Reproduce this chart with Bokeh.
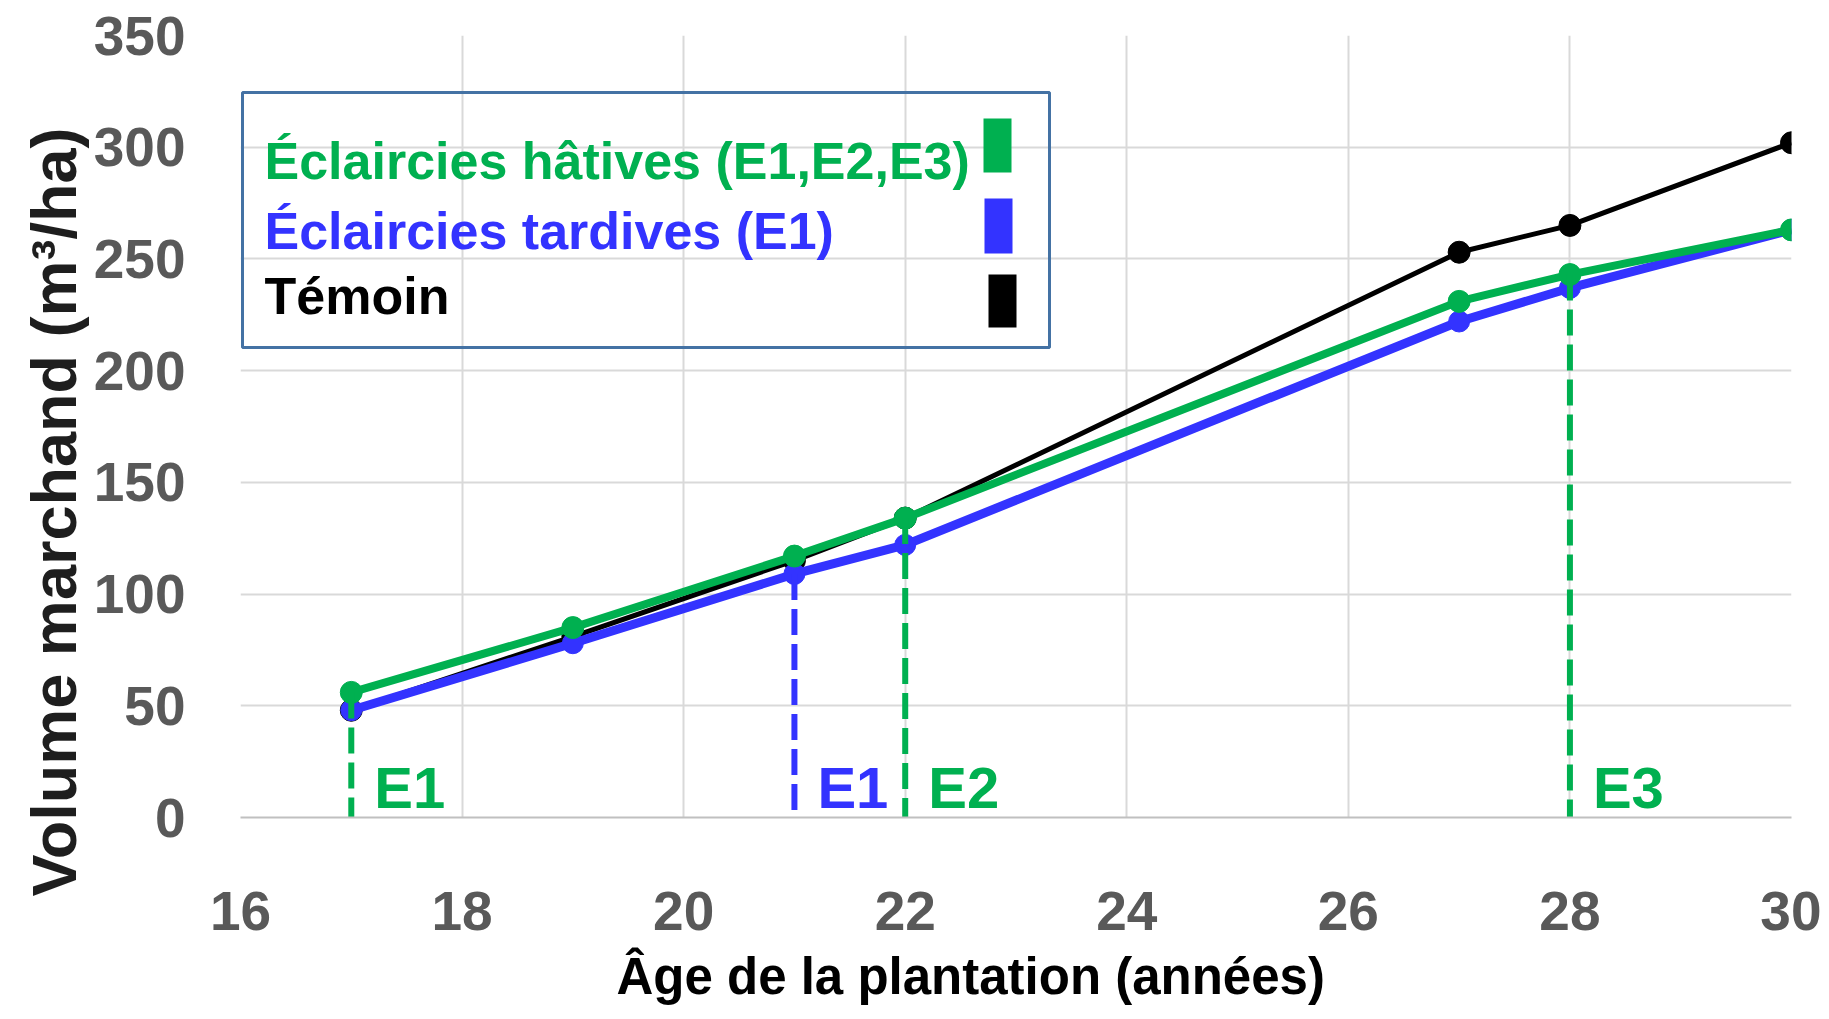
from bokeh.plotting import figure
from bokeh.models import Range1d, Label, BoxAnnotation, FixedTicker, Title
from bokeh.core.properties import value
from bokeh.embed import file_html
from bokeh.resources import INLINE

# ---------------- data ----------------
ages = [17, 19, 21, 22, 27, 28, 30]
temoin = [48, 81, 115, 134, 253, 265, 302]
hatives = [56, 85, 117, 134, 231, 243, 263]
tardives = [48, 78, 109, 122, 222, 237, 263]

hatives_thin_ages = [17, 22, 28]
hatives_thin_labels = ["E1", "E2", "E3"]
tardives_thin_ages = [21]
tardives_thin_labels = ["E1"]

x_ticks = [16, 18, 20, 22, 24, 26, 28, 30]
y_ticks = [0, 50, 100, 150, 200, 250, 300, 350]

legend_names = ["Éclaircies hâtives (E1,E2,E3)", "Éclaircies tardives (E1)", "Témoin"]

x_title = "Âge de la plantation (années)"
y_title = "Volume marchand (m³/ha)"

# ---------------- style ----------------
GREEN = "#00b050"
BLUE = "#3333ff"
BLACK = "#000000"
TICK = "#595959"
GRID = "#d9d9d9"
FONT = "Liberation Sans"
legend_colors = [GREEN, BLUE, BLACK]

p = figure(frame_width=1551, frame_height=782,
           x_range=Range1d(16, 30), y_range=Range1d(0, 350),
           output_backend="svg", toolbar_location=None,
           min_border_left=240, min_border_top=35,
           min_border_bottom=200, min_border_right=30)
p.outline_line_color = None
p.background_fill_color = "white"

p.xaxis.ticker = FixedTicker(ticks=x_ticks)
p.yaxis.ticker = FixedTicker(ticks=y_ticks)
for ax in (p.xaxis, p.yaxis):
    ax.major_tick_line_color = None
    ax.minor_tick_line_color = None
    ax.major_tick_out = 0
    ax.major_tick_in = 0
    ax.minor_tick_out = 0
    ax.major_label_text_font = FONT
    ax.major_label_text_font_style = "bold"
    ax.major_label_text_font_size = "55px"
    ax.major_label_text_color = TICK
p.xaxis.axis_line_color = "#c0c0c0"
p.xaxis.axis_line_width = 2
p.yaxis.axis_line_color = None
p.xaxis.major_label_standoff = 74
p.yaxis.major_label_standoff = 55

p.xgrid.ticker = FixedTicker(ticks=x_ticks)
p.ygrid.ticker = FixedTicker(ticks=y_ticks)
p.grid.grid_line_color = GRID
p.grid.grid_line_width = 2

# ---------------- series ----------------
p.line(ages, temoin, line_color=BLACK, line_width=5)
p.scatter(ages, temoin, size=22, fill_color=BLACK, line_color=BLACK)

p.line(ages, tardives, line_color=BLUE, line_width=9)
p.scatter(ages, tardives, size=21, fill_color=BLUE, line_color=BLUE)

p.line(ages, hatives, line_color=GREEN, line_width=8)
p.scatter(ages, hatives, size=22, fill_color=GREEN, line_color=GREEN)

# ---------------- thinning markers ----------------
h_top = [hatives[ages.index(a)] for a in hatives_thin_ages]
t_top = [tardives[ages.index(a)] for a in tardives_thin_ages]

p.segment(x0=tardives_thin_ages, y0=t_top, x1=tardives_thin_ages,
          y1=[0] * len(tardives_thin_ages),
          line_color=BLUE, line_width=6, line_dash="26 9")
p.segment(x0=hatives_thin_ages, y0=h_top, x1=hatives_thin_ages,
          y1=[0] * len(hatives_thin_ages),
          line_color=GREEN, line_width=6, line_dash="26 9")

for xs, labels, col in ((hatives_thin_ages, hatives_thin_labels, GREEN),
                        (tardives_thin_ages, tardives_thin_labels, BLUE)):
    p.text(x=xs, y=[0] * len(xs), text=labels,
           x_offset=23, y_offset=-30, text_font=value(FONT), text_font_style="bold",
           text_font_size="58px", text_color=col, text_baseline="alphabetic",
           text_align="left")

# ---------------- legend (custom: text left, swatch right) ----------------
p.add_layout(BoxAnnotation(left=2, right=809, bottom=470, top=725,
                           left_units="screen", right_units="screen",
                           bottom_units="screen", top_units="screen",
                           fill_color=None, fill_alpha=0,
                           line_color="#4472a4", line_width=3, line_alpha=1))
text_baselines = [657, 587, 522]
swatch_boxes = [(743, 771, 645, 699), (744, 772, 564, 619), (748, 776, 490, 543)]
for name, col, sy, (l, r, b, t) in zip(legend_names, legend_colors, text_baselines, swatch_boxes):
    p.add_layout(Label(x=24, y=sy, x_units="screen", y_units="screen", text=name,
                       text_font=FONT, text_font_style="bold",
                       text_font_size="52px", text_color=col,
                       text_baseline="alphabetic", text_align="left"))
    p.add_layout(BoxAnnotation(left=l, right=r, bottom=b, top=t,
                               left_units="screen", right_units="screen",
                               bottom_units="screen", top_units="screen",
                               fill_color=col, fill_alpha=1, line_color=None))

# ---------------- axis titles ----------------
p.add_layout(Title(text=y_title, align="left", offset=-79,
                   text_font=FONT, text_font_style="bold",
                   text_font_size="63px", text_color="#1e1e1e",
                   standoff=4), "left")
p.add_layout(Title(text=x_title, align="left", offset=376,
                   text_font=FONT, text_font_style="bold",
                   text_font_size="51px", text_color=BLACK,
                   standoff=26), "below")

open("out.html", "w").write(file_html(p, INLINE))
